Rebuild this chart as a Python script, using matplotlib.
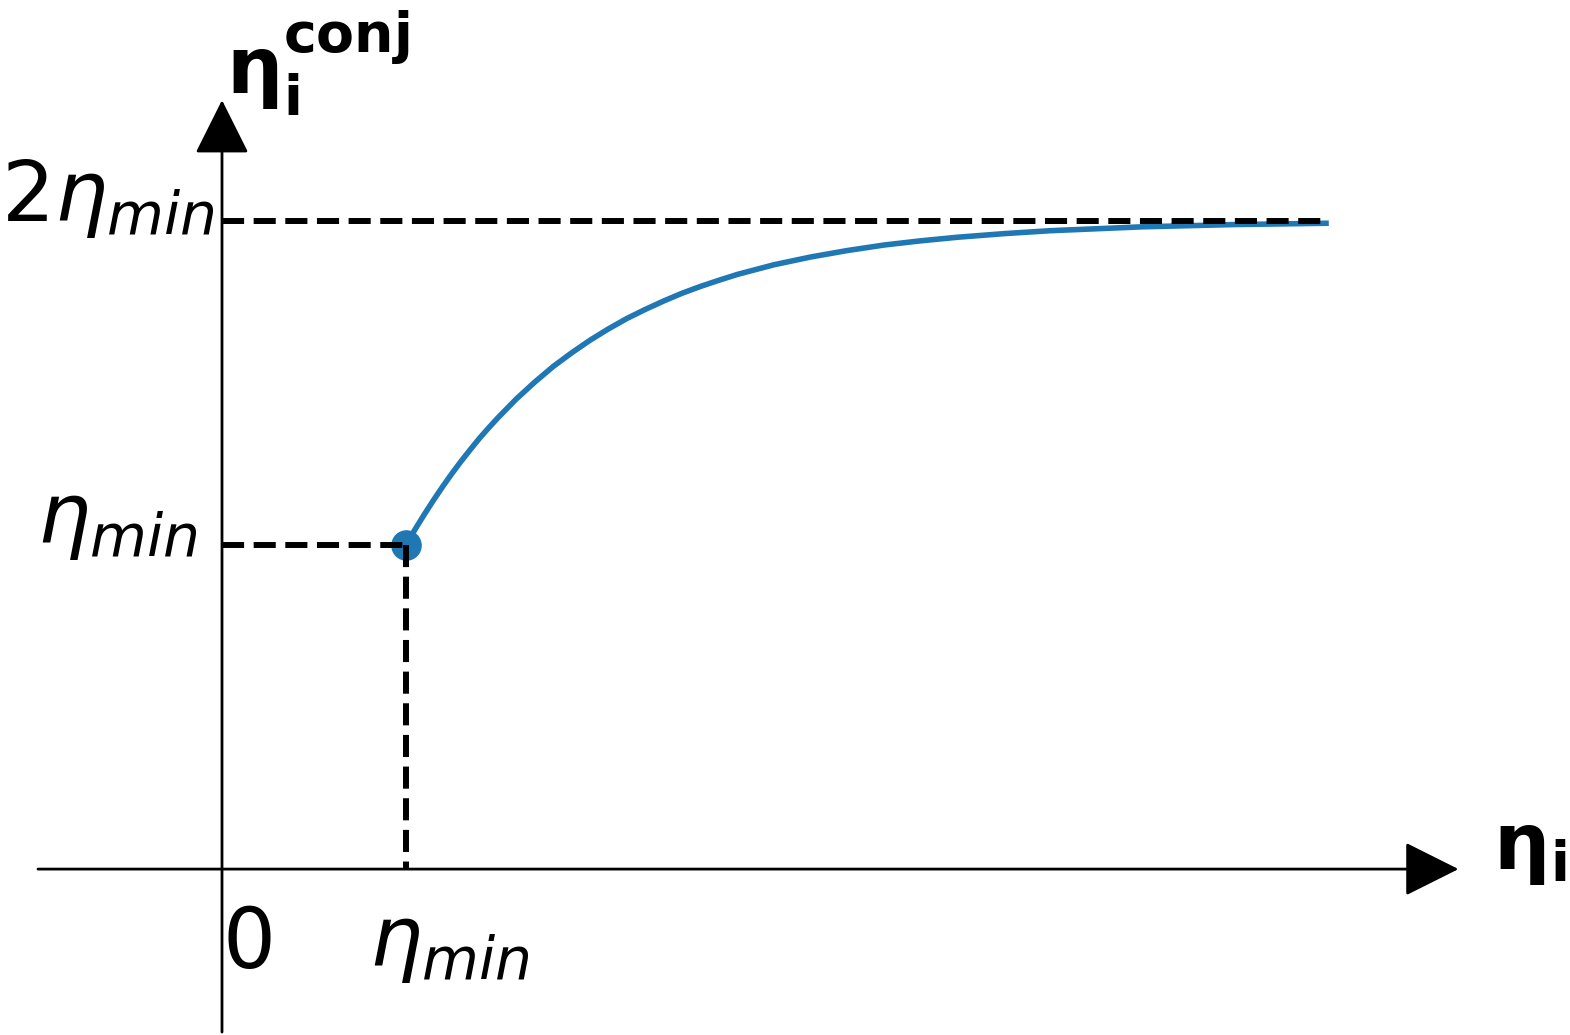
#!/usr/bin/env python3
"""Conjugate eta sketch: eta_i^conj rising from eta_min towards 2*eta_min."""
import matplotlib
matplotlib.use("Agg")
import matplotlib.pyplot as plt
from matplotlib.patches import ArrowStyle

ETA_MIN = 1.0
X_END = 6.0

# curve (units of eta_min)
eta_i = [1.0, 1.05, 1.1, 1.15, 1.2, 1.25, 1.3, 1.35, 1.4, 1.45, 1.5,
         1.6, 1.7, 1.8, 1.9, 2.0, 2.1, 2.2, 2.3, 2.4, 2.5, 2.6, 2.7,
         2.8, 2.9, 3.0, 3.2, 3.4, 3.6, 3.8, 4.0, 4.25, 4.5, 4.75, 5.0,
         5.5, 6.0]
eta_conj = [1.000, 1.049, 1.095, 1.139, 1.181, 1.221, 1.259, 1.295, 1.330,
            1.362, 1.393, 1.451, 1.503, 1.551, 1.593, 1.632, 1.667, 1.699,
            1.727, 1.753, 1.777, 1.798, 1.817, 1.835, 1.850, 1.865, 1.889,
            1.909, 1.926, 1.939, 1.950, 1.961, 1.970, 1.976, 1.982, 1.989,
            1.993]

BLUE = "#1f77b4"
FS = 60
FS_AX = 57

fig = plt.figure(figsize=(15.7, 10.35), dpi=100)
ax = fig.add_axes([0, 0, 1, 1])
ax.set_xlim(-1.2065, 7.326)
ax.set_ylim(-0.512, 2.682)
ax.axis("off")

# axes with arrow heads
head = ArrowStyle("-|>", head_length=0.4, head_width=0.2)
arrow_kw = dict(arrowstyle=head, mutation_scale=86, lw=2, color="k",
                shrinkA=0, shrinkB=0)
ax.annotate("", xy=(6.72, 0), xytext=(-1.0, 0), arrowprops=arrow_kw)
ax.annotate("", xy=(0, 2.373), xytext=(0, -0.503), arrowprops=arrow_kw)

# curve + starting point
ax.plot(eta_i, eta_conj, color=BLUE, lw=4, zorder=2,
        solid_joinstyle="round")
ax.plot([ETA_MIN], [ETA_MIN], "o", color=BLUE, ms=21, zorder=2)

# guide lines
dash_kw = dict(color="k", ls="--", lw=4.3, zorder=3)
ax.plot([0, X_END], [2 * ETA_MIN, 2 * ETA_MIN], **dash_kw)
ax.plot([0, ETA_MIN], [ETA_MIN, ETA_MIN], **dash_kw)
ax.plot([ETA_MIN, ETA_MIN], [ETA_MIN, 0], **dash_kw)

# labels
ax.text(-0.04, 2.0, r"$2\eta_{min}$", fontsize=FS, ha="right", va="baseline")
ax.text(-0.13, 1.005, r"$\eta_{min}$", fontsize=FS, ha="right", va="baseline")
ax.text(0.80, -0.298, r"$\eta_{min}$", fontsize=FS, ha="left", va="baseline")
ax.text(0.003, -0.305, "0", fontsize=FS, ha="left", va="baseline")

ax.text(0.02, 2.39, r"$\mathbf{\eta_i^{conj}}$", fontsize=FS_AX,
        ha="left", va="baseline")
ax.text(6.91, 0.0, r"$\mathbf{\eta_i}$", fontsize=FS_AX,
        ha="left", va="baseline")

fig.savefig("out.png", dpi=100)
